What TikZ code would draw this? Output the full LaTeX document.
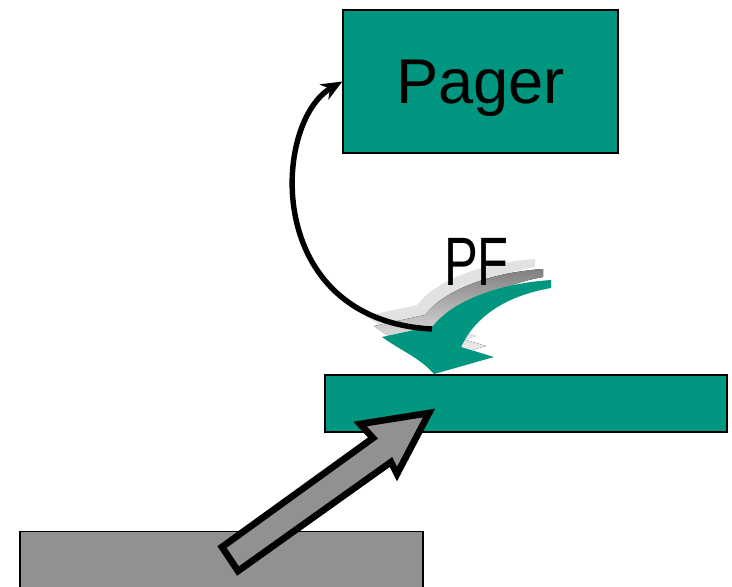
\documentclass[tikz,border=0pt]{standalone}
\usepackage{fontspec}
\setmainfont{Liberation Sans}
\usetikzlibrary{arrows.meta, positioning}

\definecolor{hpteal}{RGB}{0,150,128}
\definecolor{basegray}{RGB}{145,145,145}
\definecolor{shade}{RGB}{128,128,128}
\definecolor{ghost}{RGB}{226,226,226}

\tikzset{
    unit/.style={draw, line width=0.8pt, inner sep=0pt},
    big/.style={font=\fontsize{36}{42}\selectfont, text depth=0pt},
    link/.style={line width=3.1pt, -{Stealth[length=12pt, width=10pt]}},
    blockarrow/.style={fill=basegray, draw=black, line width=3.8pt, line join=miter}
}

\begin{document}
\begin{tikzpicture}[x=0.02cm, y=-0.02cm]
    \useasboundingbox (0, 0) rectangle (732, 586);

    \node[unit, fill=hpteal, minimum width=5.5cm, minimum height=2.86cm, big] (pager) at (480.5, 81.5) {Pager};
    \node[unit, fill=hpteal, minimum width=8.04cm, minimum height=1.14cm] (bus) at (526, 403.5) {};
    \node[unit, fill=basegray, minimum width=8.06cm, minimum height=1.3cm] (base) at (221.5, 564) {};

    % swoosh with two trailing copies behind it
    \foreach \dx/\dy/\col in {-16/-21/ghost, -8/-11/shade, 0/0/hpteal}
        \fill[\col, shift={(\dx, \dy)}]
            (551, 280) .. controls (505, 283) and (455, 298) .. (433, 326)
            -- (382, 337) .. controls (400, 350) and (420, 358) .. (434, 374)
            -- (494, 357) -- (461, 347)
            .. controls (475, 317) and (505, 296) .. (551, 288) -- cycle;
    \coordinate (fault) at (432, 329);

    \node[font=\fontsize{39}{44}\selectfont] (pf) at (476.5, 262) {\scalebox{0.74}[1]{PF}};

    % page fault goes to the pager
    \draw[link] (fault) .. controls (262, 320) and (272, 122) .. (pager.west);

    % access from below
    \draw[blockarrow] (222, 547) -- (373, 438) -- (360, 424) -- (429, 413)
        -- (397, 474) -- (391, 462) -- (238, 571) -- cycle;
\end{tikzpicture}
\end{document}
